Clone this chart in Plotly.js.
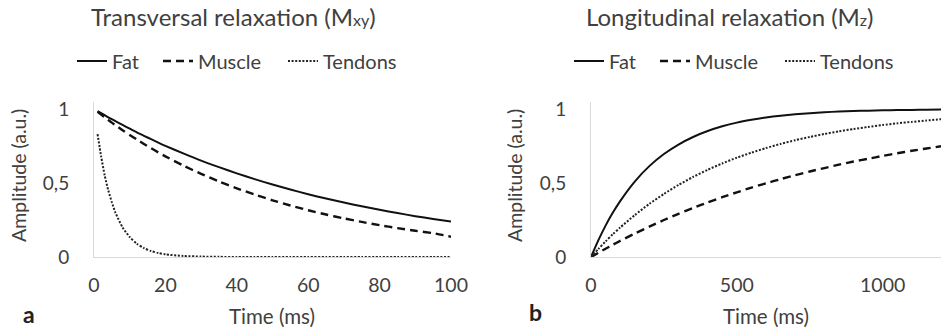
<!DOCTYPE html>
<html>
<head>
<meta charset="utf-8">
<script src="https://cdn.plot.ly/plotly-3.0.1.min.js"></script>
<style>html,body{margin:0;padding:0;background:#fff;}#chart{width:941px;height:332px;}</style>
</head>
<body>
<div id="chart"></div>
<script>
// ---- Data ----
const seriesNames = ["Fat", "Muscle", "Tendons"];

// Panel a: transversal relaxation (Mxy)
const timeT2 = [1, 2, 3, 4, 5, 6, 8, 10, 12, 14, 16, 18, 20, 25, 30, 35, 40, 45, 50, 55, 60, 65, 70, 75, 80, 85, 90, 95, 100];
const fatT2 = [0.986, 0.972, 0.958, 0.944, 0.931, 0.918, 0.892, 0.867, 0.842, 0.819, 0.796, 0.773, 0.751, 0.700, 0.651, 0.607, 0.565, 0.526, 0.490, 0.456, 0.424, 0.395, 0.368, 0.343, 0.319, 0.297, 0.276, 0.257, 0.240];
const muscleT2 = [0.981, 0.962, 0.944, 0.926, 0.908, 0.891, 0.857, 0.825, 0.794, 0.764, 0.735, 0.707, 0.680, 0.618, 0.562, 0.511, 0.464, 0.422, 0.383, 0.348, 0.316, 0.287, 0.261, 0.237, 0.215, 0.195, 0.177, 0.161, 0.137];
const tendonsT2 = [0.83, 0.68, 0.55, 0.45, 0.37, 0.30, 0.20, 0.135, 0.09, 0.06, 0.04, 0.027, 0.018, 0.007, 0.003, 0.001, 0, 0, 0, 0, 0, 0, 0, 0, 0, 0, 0, 0, 0];

// Panel b: longitudinal relaxation (Mz)
const timeT1 = [0, 25, 50, 75, 100, 150, 200, 250, 300, 350, 400, 450, 500, 550, 600, 650, 700, 750, 800, 850, 900, 950, 1000, 1050, 1100, 1150, 1200];
const fatT1 = [0, 0.112, 0.212, 0.300, 0.378, 0.510, 0.614, 0.696, 0.760, 0.811, 0.851, 0.883, 0.908, 0.927, 0.943, 0.955, 0.964, 0.972, 0.978, 0.983, 0.986, 0.989, 0.991, 0.993, 0.994, 0.995, 0.996];
const muscleT1 = [0, 0.028, 0.056, 0.083, 0.109, 0.158, 0.205, 0.250, 0.292, 0.331, 0.369, 0.404, 0.437, 0.469, 0.498, 0.526, 0.553, 0.578, 0.601, 0.624, 0.645, 0.664, 0.683, 0.701, 0.718, 0.733, 0.748];
const tendonsT1 = [0, 0.054, 0.105, 0.154, 0.199, 0.283, 0.359, 0.426, 0.487, 0.541, 0.589, 0.632, 0.671, 0.705, 0.736, 0.764, 0.789, 0.811, 0.831, 0.849, 0.865, 0.879, 0.892, 0.903, 0.913, 0.922, 0.931];

const xTicksA = [0, 20, 40, 60, 80, 100];
const xTicksB = [0, 500, 1000];
const yTickVals = [0, 0.5, 1];
const yTickText = ["0", "0,5", "1"];

// ---- Styles ----
const FONT = "Lato, 'Open Sans', sans-serif";
const TXT = "#404040";
const AX = "#d9d9d9";
const lineStyles = [
  {color: "#111", width: 2, dash: "solid"},
  {color: "#111", width: 2.4, dash: "8px,5px"},
  {color: "#222", width: 2, dash: "2px,1.6px"}
];
const legendEntryWidths = [41, 80, 78];

function mk(x, y, i, xa, ya, lg) {
  return {
    x: x, y: y, type: "scatter", mode: "lines", name: seriesNames[i],
    xaxis: xa, yaxis: ya, legend: lg, showlegend: true, legendwidth: legendEntryWidths[i],
    line: Object.assign({shape: "spline", smoothing: 0.6}, lineStyles[i]),
    hoverinfo: "skip"
  };
}

const traces = [
  mk(timeT2, fatT2, 0, "x", "y", "legend"),
  mk(timeT2, muscleT2, 1, "x", "y", "legend"),
  mk(timeT2, tendonsT2, 2, "x", "y", "legend"),
  mk(timeT1, fatT1, 0, "x2", "y2", "legend2"),
  mk(timeT1, muscleT1, 1, "x2", "y2", "legend2"),
  mk(timeT1, tendonsT1, 2, "x2", "y2", "legend2")
];

const W = 941, H = 332;
const px = v => v / W;
const py = v => (H - v) / H;

const yDom = [py(257), py(101.6)];
function xax(dom, range, ticks) {
  return {
    domain: dom, range: range, tickvals: ticks, ticktext: ticks.map(String),
    showgrid: false, zeroline: false, showline: true, linecolor: AX, linewidth: 1,
    ticks: "", ticklabelstandoff: 11, fixedrange: true,
    tickfont: {family: FONT, size: 19.5, color: TXT}
  };
}
function yax(dom, anchorX) {
  return {
    domain: dom, range: [0, 1.05], tickvals: yTickVals, ticktext: yTickText,
    showgrid: false, zeroline: false, showline: true, linecolor: AX, linewidth: 1,
    ticks: "", ticklabelstandoff: 20, fixedrange: true, anchor: anchorX,
    tickfont: {family: FONT, size: 19, color: TXT}
  };
}

const legendBase = {
  orientation: "h", xanchor: "center", yanchor: "middle",
  font: {family: FONT, size: 20, color: TXT}, bgcolor: "rgba(0,0,0,0)",
  itemclick: false, itemdoubleclick: false, tracegroupgap: 0
};

const layout = {
  width: W, height: H, margin: {l: 0, r: 0, t: 0, b: 0},
  paper_bgcolor: "#fff", plot_bgcolor: "#fff",
  font: {family: FONT, color: TXT},
  xaxis: xax([px(94), px(451)], [0, 100], xTicksA),
  yaxis: yax(yDom, "x"),
  xaxis2: Object.assign(xax([px(591), 1], [0, 1200], xTicksB), {anchor: "y2"}),
  yaxis2: yax(yDom, "x2"),
  legend: Object.assign({x: px(239), y: py(61)}, legendBase),
  legend2: Object.assign({x: px(736), y: py(61)}, legendBase),
  annotations: [
    {text: "Transversal relaxation (M<span style='font-size:16px'>xy</span>)", x: px(233), y: py(17),
     xref: "paper", yref: "paper", showarrow: false, xanchor: "center", yanchor: "middle",
     font: {family: FONT, size: 24, color: TXT}},
    {text: "Longitudinal relaxation (M<span style='font-size:16px'>z</span>)", x: px(730), y: py(17),
     xref: "paper", yref: "paper", showarrow: false, xanchor: "center", yanchor: "middle",
     font: {family: FONT, size: 24, color: TXT}},
    {text: "Time (ms)", x: px(272), y: py(316), xref: "paper", yref: "paper", showarrow: false,
     xanchor: "center", yanchor: "middle", font: {family: FONT, size: 20.5, color: TXT}},
    {text: "Time (ms)", x: px(766), y: py(316), xref: "paper", yref: "paper", showarrow: false,
     xanchor: "center", yanchor: "middle", font: {family: FONT, size: 20.5, color: TXT}},
    {text: "Amplitude (a.u.)", x: px(19), y: py(176), xref: "paper", yref: "paper", showarrow: false,
     textangle: -90, xanchor: "center", yanchor: "middle", font: {family: FONT, size: 19.5, color: TXT}},
    {text: "Amplitude (a.u.)", x: px(515), y: py(176), xref: "paper", yref: "paper", showarrow: false,
     textangle: -90, xanchor: "center", yanchor: "middle", font: {family: FONT, size: 19.5, color: TXT}},
    {text: "<b>a</b>", x: px(29), y: py(314), xref: "paper", yref: "paper", showarrow: false,
     xanchor: "center", yanchor: "middle", font: {family: FONT, size: 23, color: "#222"}},
    {text: "<b>b</b>", x: px(535), y: py(312), xref: "paper", yref: "paper", showarrow: false,
     xanchor: "center", yanchor: "middle", font: {family: FONT, size: 23, color: "#222"}}
  ]
};

Plotly.newPlot("chart", traces, layout, {staticPlot: true, displayModeBar: false});
</script>
</body>
</html>
